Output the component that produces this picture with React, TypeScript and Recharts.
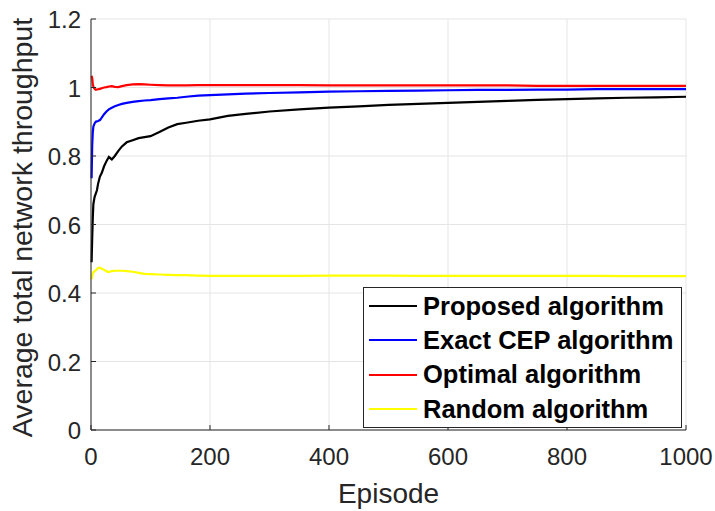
import { CartesianGrid, Legend, Line, LineChart, XAxis, YAxis } from 'recharts';

const episodes = [
  1, 2, 3, 4, 6, 8, 10, 12, 15, 18, 22, 26, 30, 35, 40, 46, 52, 60, 70, 80, 90, 100, 115, 130, 145,
  160, 180, 200, 230, 260, 300, 350, 400, 450, 500, 550, 600, 650, 700, 750, 800, 850, 900, 950, 1000,
];

const proposed = [
  0.49, 0.56, 0.62, 0.66, 0.68, 0.69, 0.7, 0.72, 0.74, 0.75, 0.77, 0.785, 0.797, 0.79, 0.8, 0.815,
  0.828, 0.84, 0.846, 0.852, 0.855, 0.858, 0.87, 0.883, 0.893, 0.897, 0.903, 0.907, 0.917, 0.923,
  0.93, 0.936, 0.941, 0.945, 0.949, 0.952, 0.955, 0.958, 0.961, 0.964, 0.966, 0.968, 0.97, 0.971, 0.973,
];

const exactCep = [
  0.735, 0.83, 0.87, 0.886, 0.895, 0.9, 0.901, 0.902, 0.905, 0.912, 0.922, 0.93, 0.936, 0.941, 0.945,
  0.949, 0.952, 0.955, 0.958, 0.96, 0.962, 0.963, 0.966, 0.968, 0.97, 0.973, 0.976, 0.978, 0.98, 0.982,
  0.984, 0.986, 0.988, 0.989, 0.99, 0.991, 0.992, 0.993, 0.993, 0.994, 0.994, 0.995, 0.995, 0.995, 0.995,
];

const optimal = [
  1.034, 1.028, 1.012, 1.002, 0.996, 0.993, 0.994, 0.995, 0.996, 0.998, 1.0, 1.001, 1.003, 1.004, 1.002,
  1.001, 1.004, 1.007, 1.009, 1.01, 1.009, 1.008, 1.007, 1.006, 1.006, 1.006, 1.007, 1.007, 1.007, 1.007,
  1.007, 1.007, 1.006, 1.006, 1.006, 1.006, 1.006, 1.006, 1.006, 1.005, 1.005, 1.005, 1.005, 1.005, 1.005,
];

const random = [
  0.44, 0.45, 0.457, 0.46, 0.464, 0.466, 0.47, 0.473, 0.474, 0.471, 0.468, 0.463, 0.461, 0.464, 0.465,
  0.465, 0.465, 0.464, 0.462, 0.459, 0.456, 0.455, 0.454, 0.453, 0.452, 0.452, 0.451, 0.45, 0.45, 0.45,
  0.45, 0.45, 0.451, 0.451, 0.451, 0.45, 0.45, 0.45, 0.45, 0.45, 0.45, 0.45, 0.449, 0.449, 0.449,
];

const xTicks = [0, 200, 400, 600, 800, 1000];
const yTicks = [0, 0.2, 0.4, 0.6, 0.8, 1, 1.2];

const legendOrder = ['Proposed algorithm', 'Exact CEP algorithm', 'Optimal algorithm', 'Random algorithm'];

const chartData = episodes.map((ep, i) => ({
  ep,
  proposed: proposed[i],
  exactCep: exactCep[i],
  optimal: optimal[i],
  random: random[i],
}));

const FONT = '"Liberation Sans", Arial, Helvetica, sans-serif';
const AXIS = '#262626';

function YTick(props: any) {
  const { x, y, payload } = props;
  return (
    <g>
      <line x1={x + 10} x2={x + 15} y1={y} y2={y} stroke={AXIS} />
      <text x={x} y={y} dy="0.38em" textAnchor="end" fontSize={24} fontFamily={FONT} fill={AXIS}>
        {payload.value}
      </text>
    </g>
  );
}

function XTick(props: any) {
  const { x, y, payload } = props;
  return (
    <g>
      <line x1={x} x2={x} y1={y} y2={y - 5} stroke={AXIS} />
      <text x={x} y={y + 35} textAnchor="middle" fontSize={24} fontFamily={FONT} fill={AXIS}>
        {payload.value}
      </text>
    </g>
  );
}

function LegendBox({ payload }: any) {
  const items = [...(payload || [])].sort(
    (a: any, b: any) => legendOrder.indexOf(a.value) - legendOrder.indexOf(b.value),
  );
  return (
    <div
      style={{
        width: 317,
        height: 138,
        border: '1px solid #262626',
        background: '#fff',
        paddingTop: 1,
        boxSizing: 'content-box',
      }}
    >
      {items.map((entry: any) => (
        <div key={entry.value} style={{ display: 'flex', alignItems: 'center', height: 34.3 }}>
          <div style={{ width: 48, height: 2, background: entry.color, marginLeft: 5, marginRight: 6 }} />
          <span style={{ fontFamily: FONT, fontWeight: 'bold', fontSize: 25.5, color: '#000', whiteSpace: 'nowrap' }}>
            {entry.value}
          </span>
        </div>
      ))}
    </div>
  );
}

export default function App() {
  return (
    <div style={{ position: 'absolute', left: 0, top: 0, width: 715, height: 511, background: '#fff' }}>
      <LineChart width={715} height={511} data={chartData} margin={{ top: 19, right: 29, bottom: 0, left: 0 }}>
        <CartesianGrid stroke="#e5e5e5" strokeWidth={1} />
        <XAxis
          dataKey="ep"
          type="number"
          domain={[0, 1000]}
          ticks={xTicks}
          height={81}
          tickSize={0}
          tickMargin={0}
          tickLine={false}
          tick={<XTick />}
          axisLine={{ stroke: AXIS }}
          label={{ value: 'Episode', position: 'insideBottom', offset: 8, fontSize: 28, fontFamily: FONT, fill: AXIS }}
        />
        <YAxis
          type="number"
          domain={[0, 1.2]}
          ticks={yTicks}
          width={91}
          tickSize={0}
          tickMargin={10}
          tickLine={false}
          tick={<YTick />}
          axisLine={{ stroke: AXIS }}
          label={({ viewBox }: any) => {
            const cx = 32;
            const cy = viewBox.y + viewBox.height / 2 + 3;
            return (
              <text
                x={cx}
                y={cy}
                transform={`rotate(-90 ${cx} ${cy})`}
                textAnchor="middle"
                fontSize={28.5}
                fontFamily={FONT}
                fill={AXIS}
              >
                Average total network throughput
              </text>
            );
          }}
        />
        <Legend
          layout="vertical"
          align="center"
          verticalAlign="middle"
          content={<LegendBox />}
          wrapperStyle={{ left: 363, top: 287, width: 319, height: 140 }}
        />
        <Line dataKey="random" name="Random algorithm" stroke="#ffff00" strokeWidth={2.2} dot={false} isAnimationActive={false} />
        <Line dataKey="optimal" name="Optimal algorithm" stroke="#ff0000" strokeWidth={2.2} dot={false} isAnimationActive={false} />
        <Line dataKey="exactCep" name="Exact CEP algorithm" stroke="#0000ff" strokeWidth={2.2} dot={false} isAnimationActive={false} />
        <Line dataKey="proposed" name="Proposed algorithm" stroke="#000000" strokeWidth={2.2} dot={false} isAnimationActive={false} />
      </LineChart>
    </div>
  );
}
